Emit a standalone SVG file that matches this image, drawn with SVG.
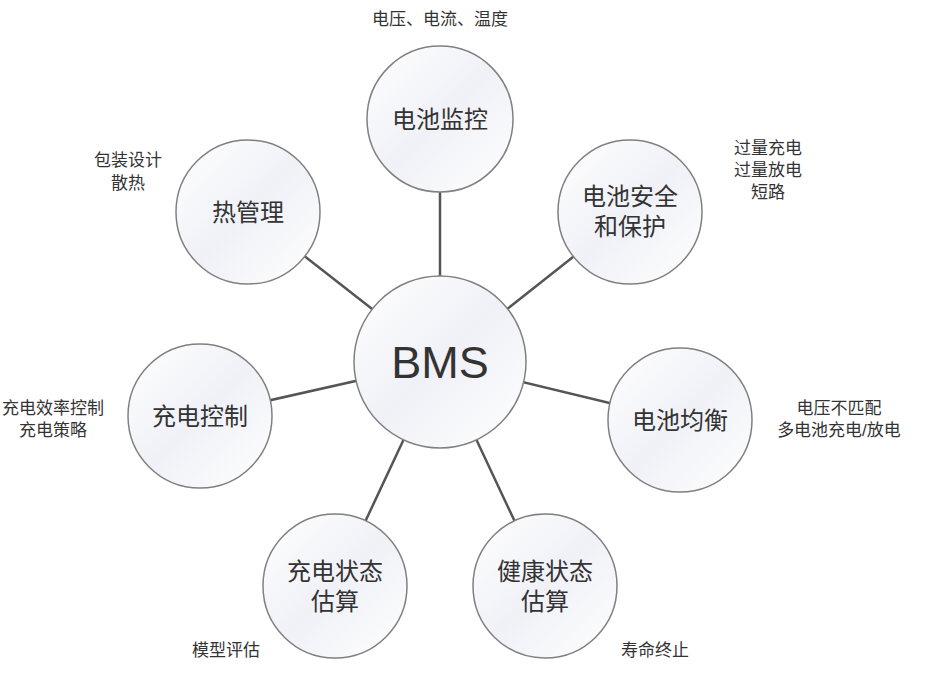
<svg xmlns="http://www.w3.org/2000/svg" width="933" height="693" viewBox="0 0 933 693">
<defs>
<linearGradient id="g" x1="0" y1="0" x2="1" y2="1">
<stop offset="0" stop-color="#ffffff"/>
<stop offset="0.5" stop-color="#f0f1f7"/>
<stop offset="1" stop-color="#ffffff"/>
</linearGradient>
</defs>
<style>
.n{fill:url(#g);stroke:#808080;stroke-width:1.5}
.t{font-family:"Liberation Sans","Noto Sans CJK SC",sans-serif;fill:#333;text-anchor:middle}
.nt{font-size:24px}
.a{font-size:17px}
.c line{stroke:#555;stroke-width:2.5}
</style>
<rect width="933" height="693" fill="#fff"/>
<g class="c">
<line x1="440" y1="362" x2="440" y2="120"/>
<line x1="440" y1="362" x2="248" y2="212"/>
<line x1="440" y1="362" x2="630" y2="212"/>
<line x1="440" y1="362" x2="200" y2="416"/>
<line x1="440" y1="362" x2="680" y2="420"/>
<line x1="440" y1="362" x2="335" y2="586"/>
<line x1="440" y1="362" x2="545" y2="586"/>
</g>
<g id="bms"><circle class="n" cx="440" cy="362" r="86"/><text class="t" x="440" y="378" font-size="45">BMS</text></g>
<g id="monitor"><circle class="n" cx="440" cy="119" r="73"/><text class="t nt" x="440" y="128">电池监控</text></g>
<g id="thermal"><circle class="n" cx="248" cy="212" r="72"/><text class="t nt" x="248" y="221">热管理</text></g>
<g id="safety"><circle class="n" cx="630" cy="212" r="72"/><text class="t nt" x="630" y="205">电池安全</text><text class="t nt" x="630" y="235">和保护</text></g>
<g id="charge"><circle class="n" cx="200" cy="416" r="72"/><text class="t nt" x="200" y="425">充电控制</text></g>
<g id="balance"><circle class="n" cx="680" cy="420" r="72"/><text class="t nt" x="680" y="429">电池均衡</text></g>
<g id="soc"><circle class="n" cx="335" cy="586" r="72"/><text class="t nt" x="335" y="580">充电状态</text><text class="t nt" x="335" y="610">估算</text></g>
<g id="soh"><circle class="n" cx="545" cy="586" r="72"/><text class="t nt" x="545" y="580">健康状态</text><text class="t nt" x="545" y="610">估算</text></g>
<g id="labels">
<text class="t a" x="440" y="25">电压、电流、温度</text>
<text class="t a" x="128" y="166">包装设计</text>
<text class="t a" x="128" y="189">散热</text>
<text class="t a" x="768" y="154">过量充电</text>
<text class="t a" x="768" y="176">过量放电</text>
<text class="t a" x="768" y="198">短路</text>
<text class="t a" x="53" y="414">充电效率控制</text>
<text class="t a" x="53" y="436">充电策略</text>
<text class="t a" x="839" y="414">电压不匹配</text>
<text class="t a" x="839" y="436">多电池充电/放电</text>
<text class="t a" x="226" y="656">模型评估</text>
<text class="t a" x="655" y="656">寿命终止</text>
</g>
</svg>
